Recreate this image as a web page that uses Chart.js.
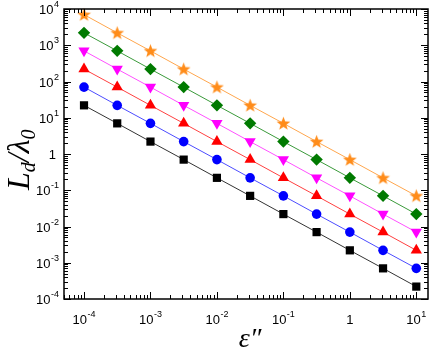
<!DOCTYPE html>
<html>
<head>
<meta charset="utf-8">
<script src="https://cdn.jsdelivr.net/npm/chart.js@4/dist/chart.umd.min.js"></script>
<style>body{margin:0;background:#fff}</style>
</head>
<body>
<canvas id="plot" width="436" height="354"></canvas>
<script>
// epsilon'' values (half-decade steps)
let epsilon = [1e-4, 3.16e-4, 1e-3, 3.16e-3, 1e-2, 3.16e-2, 1e-1, 3.16e-1, 1, 3.16, 10]
// L_d / lambda_0 for each series
let squares  = [22, 7, 2.2, 0.7, 0.22, 0.07, 0.022, 0.007, 0.0022, 0.0007, 0.00022]
let circles  = [70, 22, 7, 2.2, 0.7, 0.22, 0.07, 0.022, 0.007, 0.0022, 0.0007]
let triUp    = [220, 70, 22, 7, 2.2, 0.7, 0.22, 0.07, 0.022, 0.007, 0.0022]
let triDown  = [700, 220, 70, 22, 7, 2.2, 0.7, 0.22, 0.07, 0.022, 0.007]
let diamonds = [2200, 700, 220, 70, 22, 7, 2.2, 0.7, 0.22, 0.07, 0.022]
let stars    = [7000, 2200, 700, 220, 70, 22, 7, 2.2, 0.7, 0.22, 0.07]

let xTicks = [1e-4, 1e-3, 1e-2, 1e-1, 1, 10]
let xTickLabels = [['10', '-4'], ['10', '-3'], ['10', '-2'], ['10', '-1'], ['1', ''], ['10', '1']]
let yTicks = [1e4, 1e3, 1e2, 1e1, 1, 1e-1, 1e-2, 1e-3, 1e-4]
let yTickLabels = [['10', '4'], ['10', '3'], ['10', '2'], ['10', '1'], ['1', ''], ['10', '-1'], ['10', '-2'], ['10', '-3'], ['10', '-4']]

// filled star marker (Chart.js 'star' is only an outline)
let starImg = document.createElement('canvas')
starImg.width = 15; starImg.height = 15
let sc = starImg.getContext('2d')
sc.beginPath()
for (let i = 0; i < 10; i++) {
  let r = i % 2 ? 3 : 7.2
  let a = -Math.PI / 2 + i * Math.PI / 5
  sc.lineTo(7.5 + r * Math.cos(a), 8 + r * Math.sin(a))
}
sc.closePath()
sc.fillStyle = '#ff8c1a'
sc.fill()

let mk = (data, color, lineColor, style, radius, rot) => ({
  data: data.map((v, i) => ({x: epsilon[i], y: v})),
  borderColor: lineColor,
  borderWidth: 1,
  pointBackgroundColor: color,
  pointBorderColor: color,
  pointBorderWidth: 0,
  pointStyle: style,
  pointRadius: radius,
  pointRotation: rot || 0,
  tension: 0,
  clip: false
})

let powLabel = (ctx, base, exp, x, y, align) => {
  ctx.font = '13px "Liberation Sans", Arial, sans-serif'
  let w1 = ctx.measureText(base).width
  ctx.font = '9px "Liberation Sans", Arial, sans-serif'
  let w2 = exp ? ctx.measureText(exp).width + 0.5 : 0
  let x0 = align === 'center' ? x - (w1 + w2) / 2 : x - w1 - w2
  ctx.textAlign = 'left'
  ctx.textBaseline = 'alphabetic'
  ctx.font = '13px "Liberation Sans", Arial, sans-serif'
  ctx.fillText(base, x0, y)
  if (exp) {
    ctx.font = '9px "Liberation Sans", Arial, sans-serif'
    ctx.fillText(exp, x0 + w1 + 0.5, y - 7)
  }
}

let minorVals = (min, max) => {
  let out = []
  for (let d = Math.floor(Math.log10(min)); d <= Math.ceil(Math.log10(max)); d++) {
    for (let k = 2; k <= 9; k++) {
      let v = k * Math.pow(10, d)
      if (v >= min && v <= max) out.push(v)
    }
  }
  return out
}

const frame = {
  id: 'frame',
  afterDraw(chart) {
    const {ctx, chartArea: a, scales: {x, y}} = chart
    ctx.save()
    ctx.strokeStyle = '#000'
    ctx.fillStyle = '#000'
    ctx.lineWidth = 1
    let tick = (px, py, dx, dy) => {
      ctx.beginPath(); ctx.moveTo(px, py); ctx.lineTo(px + dx, py + dy); ctx.stroke()
    }
    xTicks.forEach(v => {
      let p = Math.round(x.getPixelForValue(v)) + 0.5
      tick(p, a.bottom, 0, -7); tick(p, a.top, 0, 7)
    })
    minorVals(x.min, x.max).forEach(v => {
      let p = Math.round(x.getPixelForValue(v)) + 0.5
      tick(p, a.bottom, 0, -4); tick(p, a.top, 0, 4)
    })
    yTicks.forEach(v => {
      let p = Math.round(y.getPixelForValue(v)) + 0.5
      tick(a.left, p, 7, 0); tick(a.right, p, -7, 0)
    })
    minorVals(y.min, y.max).forEach(v => {
      let p = Math.round(y.getPixelForValue(v)) + 0.5
      tick(a.left, p, 4, 0); tick(a.right, p, -4, 0)
    })
    ctx.lineWidth = 1.5
    ctx.strokeRect(a.left, a.top, a.right - a.left, a.bottom - a.top)

    xTicks.forEach((v, i) => {
      powLabel(ctx, xTickLabels[i][0], xTickLabels[i][1], x.getPixelForValue(v), a.bottom + 25, 'center')
    })
    yTicks.forEach((v, i) => {
      let lab = yTickLabels[i]
      powLabel(ctx, lab[0], lab[1], lab[1] ? a.left - 5 : a.left - 8, y.getPixelForValue(v) + 5, 'right')
    })

    // x title
    ctx.font = 'italic 28px "Liberation Serif", "Times New Roman", serif'
    ctx.textAlign = 'center'
    ctx.fillText('\u03b5\u2033', 250, 347)

    // y title, rotated
    ctx.translate(29, 190)
    ctx.rotate(-Math.PI / 2)
    ctx.textAlign = 'left'
    let cx = 0
    let part = (t, font, dy) => {
      ctx.font = font
      ctx.fillText(t, cx, dy)
      cx += ctx.measureText(t).width
    }
    part('L', 'italic 32px "Liberation Serif", serif', 0)
    part('d', 'italic 20px "Liberation Serif", serif', 6)
    part('/', 'italic 32px "Liberation Serif", serif', 0)
    part('\u03bb', 'italic 32px "Liberation Serif", serif', 0)
    part('0', 'italic 20px "Liberation Serif", serif', 6)
    ctx.restore()
  }
}

new Chart(document.getElementById('plot').getContext('2d'), {
  type: 'line',
  data: {
    datasets: [
      mk(squares, '#000000', '#333333', 'rect', 5.8),
      mk(circles, '#0000ff', '#4c4cff', 'circle', 4.8),
      mk(triUp, '#ff0000', '#ff4040', 'triangle', 6.5),
      mk(triDown, '#ff00ff', '#ff50ff', 'triangle', 6.5, 180),
      mk(diamonds, '#007a00', '#3a9a3a', 'rectRot', 6.2),
      mk(stars, '#ff8c1a', '#ffa64d', starImg, 7)
    ]
  },
  options: {
    responsive: false,
    animation: false,
    layout: {padding: {left: 64, right: 8, top: 9, bottom: 55}},
    plugins: {legend: {display: false}, tooltip: {enabled: false}},
    scales: {
      x: {type: 'logarithmic', min: 5e-5, max: 15, display: false},
      y: {type: 'logarithmic', min: 1e-4, max: 1e4, display: false}
    }
  },
  plugins: [frame]
})
</script>
</body>
</html>
